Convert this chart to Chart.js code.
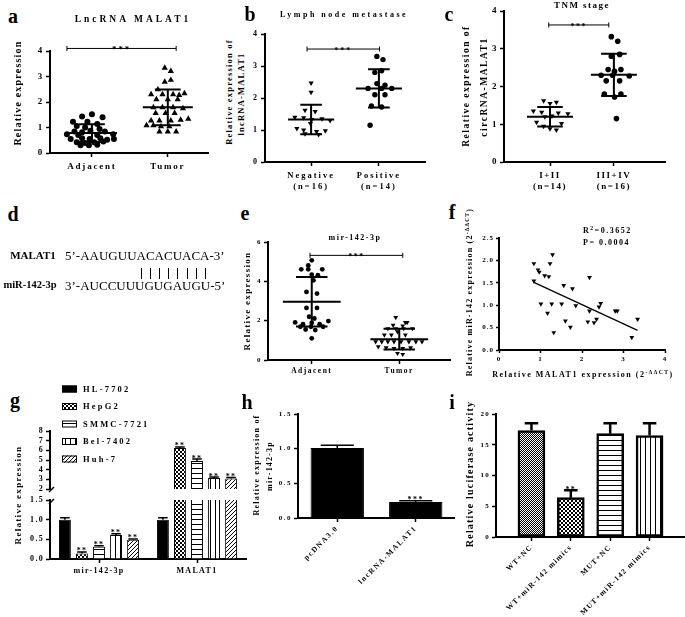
<!DOCTYPE html>
<html>
<head>
<meta charset="utf-8">
<script src="https://cdn.jsdelivr.net/npm/chart.js@4.4.0/dist/chart.umd.min.js"></script>
<style>
body { margin: 0; background: #fff; }
#fig { position: relative; width: 685px; height: 617px; overflow: hidden; font-family: "Liberation Serif", "Times New Roman", serif; color: #000; }
#fig canvas { position: absolute; }
.t { position: absolute; white-space: nowrap; font-weight: bold; line-height: 1; }
.t sup { font-size: 70%; vertical-align: 0.45em; line-height: 0; }
</style>
</head>
<body>
<div id="fig"></div>
<script>
const SERIF = '"Liberation Serif", "Times New Roman", serif';

// a: LncRNA MALAT1
const A_CATS = ['Adjacent', 'Tumor'];
const A_ADJ_X = [0.87, 1.00, 1.14, 0.75, 0.94, 1.07, 0.80, 0.91, 1.10, 0.77, 0.98, 0.87, 1.17, 0.67, 0.82, 1.07, 1.28, 0.72, 0.87, 0.97, 1.11, 1.20, 1.29, 0.80, 0.91, 1.03, 1.15, 0.85, 0.96, 1.07];
const A_ADJ_Y = [1.43, 1.52, 1.40, 1.23, 1.23, 1.14, 1.06, 1.00, 0.94, 0.84, 0.87, 0.81, 0.84, 0.74, 0.71, 0.71, 0.74, 0.55, 0.58, 0.55, 0.58, 0.52, 0.55, 0.42, 0.39, 0.42, 0.45, 0.30, 0.30, 0.32];
const A_TUM_X = [1.96, 2.04, 1.96, 2.04, 1.78, 1.87, 1.93, 2.07, 2.15, 2.22, 1.85, 2.00, 2.13, 1.81, 1.93, 2.07, 2.20, 1.84, 1.97, 2.09, 1.78, 1.89, 2.04, 2.17, 2.27, 1.72, 1.81, 1.91, 2.02, 1.89, 2.00, 2.11];
const A_TUM_Y = [3.34, 3.21, 2.79, 2.86, 2.30, 2.49, 2.30, 2.30, 2.27, 2.34, 2.10, 2.10, 2.10, 1.79, 1.79, 1.79, 1.75, 1.56, 1.56, 1.56, 1.27, 1.27, 1.27, 1.30, 1.34, 1.08, 1.08, 1.04, 1.04, 0.84, 0.84, 0.84];
const A_MEAN = [0.78, 1.79];
const A_SD = [0.35, 0.70];

// b: lymph node metastase
const B_CATS = [['Negative', '(n=16)'], ['Positive', '(n=14)']];
const B_NEG_X = [1.00, 1.00, 0.91, 1.06, 0.76, 0.89, 1.01, 1.16, 1.28, 0.99, 0.79, 0.89, 1.21, 1.08, 0.91, 1.11];
const B_NEG_Y = [2.47, 2.18, 1.62, 1.58, 1.40, 1.38, 1.33, 1.35, 1.30, 1.20, 1.05, 1.00, 0.98, 0.95, 0.88, 0.86];
const B_POS_X = [1.97, 2.06, 1.94, 2.04, 1.97, 2.09, 1.84, 2.04, 2.19, 1.94, 2.09, 1.89, 2.04, 1.87];
const B_POS_Y = [3.30, 3.20, 2.80, 2.85, 2.45, 2.40, 2.30, 2.30, 2.30, 2.10, 2.10, 1.75, 1.72, 1.15];
const B_MEAN = [1.33, 2.30];
const B_SD = [0.46, 0.60];

// c: TNM stage
const C_CATS = [['I+II', '(n=14)'], ['III+IV', '(n=16)']];
const C_LOW_X = [0.90, 1.10, 1.00, 0.74, 0.87, 1.13, 1.28, 1.03, 0.92, 0.79, 1.18, 0.90, 1.00, 1.10];
const C_LOW_Y = [1.62, 1.58, 1.55, 1.35, 1.32, 1.30, 1.28, 1.22, 1.20, 1.05, 1.02, 0.95, 0.88, 0.85];
const C_HIGH_X = [1.96, 2.06, 1.96, 2.09, 1.91, 2.11, 2.01, 1.80, 1.98, 2.24, 1.88, 2.09, 1.85, 2.11, 2.01, 2.04];
const C_HIGH_Y = [3.32, 3.20, 2.80, 2.85, 2.45, 2.45, 2.40, 2.30, 2.30, 2.28, 2.15, 2.15, 1.80, 1.80, 1.72, 1.15];
const C_MEAN = [1.20, 2.31];
const C_SD = [0.26, 0.56];

// e: mir-142-3p
const E_CATS = ['Adjacent', 'Tumor'];
const E_ADJ_X = [1.00, 0.96, 0.88, 0.96, 1.12, 1.00, 1.07, 1.02, 0.94, 1.06, 0.94, 1.06, 0.97, 1.03, 0.81, 1.19, 0.90, 1.00, 1.09, 0.87, 0.99, 1.13, 0.93, 1.04, 1.00];
const E_ADJ_Y = [5.07, 4.81, 4.61, 4.61, 4.61, 4.34, 4.31, 4.05, 3.46, 3.38, 2.65, 2.65, 2.20, 2.11, 1.91, 1.98, 1.82, 1.89, 1.82, 1.69, 1.69, 1.69, 1.55, 1.52, 1.10];
const E_TUM_X = [1.96, 2.07, 1.93, 2.04, 2.09, 1.87, 1.96, 2.05, 2.15, 1.98, 1.83, 1.91, 2.07, 1.73, 1.80, 1.87, 1.94, 2.02, 2.11, 2.19, 2.26, 1.76, 1.85, 1.94, 2.04, 2.13, 1.98, 2.04];
const E_TUM_Y = [2.16, 1.91, 1.77, 1.74, 1.91, 1.60, 1.60, 1.60, 1.60, 1.44, 1.27, 1.27, 1.27, 0.93, 0.93, 0.93, 0.93, 0.93, 0.93, 0.93, 0.93, 0.68, 0.63, 0.59, 0.59, 0.63, 0.34, 0.29];
const E_MEAN = [2.96, 1.06];
const E_SD = [1.26, 0.53];

// f: correlation
const F_X = [0.84, 0.94, 0.97, 0.84, 1.01, 1.10, 1.20, 1.23, 1.29, 1.17, 1.27, 1.32, 1.56, 1.51, 1.60, 1.72, 1.77, 1.85, 2.18, 2.14, 2.18, 2.29, 2.35, 2.41, 2.45, 2.80, 2.85, 3.20, 3.34];
const F_Y = [1.93, 1.79, 1.74, 1.54, 1.03, 1.66, 1.64, 1.93, 2.13, 0.82, 1.03, 0.39, 1.44, 1.03, 0.65, 0.51, 1.37, 0.99, 1.62, 0.63, 0.87, 0.61, 0.69, 0.96, 1.04, 0.87, 0.87, 0.28, 0.69];
const F_FIT_X = [0.84, 3.34];
const F_FIT_Y = [1.51, 0.44];

// g: cell lines
const G_CATS = ['mir-142-3p', 'MALAT1'];
const G_SERIES = ['HL-7702', 'HepG2', 'SMMC-7721', 'Bel-7402', 'Huh-7'];
const G_HL = [1.00, 1.00];
const G_HEPG2 = [0.14, 6.25];
const G_SMMC = [0.31, 4.90];
const G_BEL = [0.61, 3.15];
const G_HUH = [0.49, 3.08];
const G_ERR = [[0.05, 0.05], [0.04, 0.10], [0.03, 0.20], [0.03, 0.08], [0.02, 0.10]];
const G_STARS = [['', ''], ['**', '**'], ['**', '**'], ['**', '**'], ['**', '**']];

// h
const H_CATS = ['pcDNA3.0', 'lncRNA-MALAT1'];
const H_VALUES = [1.01, 0.23];
const H_ERR = [0.04, 0.02];
const H_STARS = ['', '***'];

// i
const I_CATS = ['WT+NC', 'WT+miR-142 mimics', 'MUT+NC', 'MUT+miR-142 mimics'];
const I_VALUES = [17.3, 6.4, 16.8, 16.5];
const I_ERR = [1.2, 1.2, 1.7, 2.0];
const I_STARS = ['', '**', '', ''];

Chart.defaults.font.family = SERIF;
Chart.defaults.font.weight = 'bold';
Chart.defaults.color = '#000';

const fig = document.getElementById('fig');

function text(html, x, y, size, opts = {}) {
  const d = document.createElement('div');
  d.className = 't';
  d.innerHTML = html;
  d.style.left = x + 'px';
  d.style.top = y + 'px';
  d.style.fontSize = size + 'px';
  d.style.letterSpacing = (opts.ls || 0) + 'px';
  if (opts.normal) d.style.fontWeight = 'normal';
  if (opts.left) d.style.transform = 'translateY(-50%)';
  else d.style.transform = 'translate(-50%,-50%)' + (opts.rot ? ' rotate(-90deg)' : '');
  fig.appendChild(d);
  return d;
}

// canvas at box [L,T,W,H], chart area forced to [x0,y0,x1,y1] (page px)
function place(box, area, config) {
  const [L, T, W, H] = box;
  const [x0, y0, x1, y1] = area;
  const cv = document.createElement('canvas');
  cv.width = W; cv.height = H;
  cv.style.left = L + 'px'; cv.style.top = T + 'px';
  fig.appendChild(cv);
  const o = config.options;
  const below = T + H - y1;
  const xHidden = o.scales.x.display === false;
  o.responsive = false;
  o.animation = false;
  o.layout = { padding: { left: 0, top: y0 - T, right: L + W - x1, bottom: xHidden ? below : 0 } };
  o.scales.x.afterFit = s => { s.height = xHidden ? 0 : below; s.paddingLeft = 0; s.paddingRight = 0; };
  o.scales.y.afterFit = s => { s.width = x0 - L; s.paddingTop = 0; s.paddingBottom = 0; };
  o.plugins = Object.assign({ legend: { display: false }, tooltip: { enabled: false } }, o.plugins || {});
  return new Chart(cv, config);
}

const grid = (len = 4) => ({ display: true, drawOnChartArea: false, drawTicks: true, tickLength: len, tickWidth: 1.5, tickColor: '#000', offset: false });
const border = (w = 2) => ({ display: true, color: '#000', width: w });
const spacing = px => ({ id: 'spacing', beforeDraw(chart) { chart.ctx.letterSpacing = px + 'px'; } });

function notes(items) {
  return {
    id: 'notes',
    afterDatasetsDraw(chart) {
      const ctx = chart.ctx;
      ctx.save();
      ctx.fillStyle = '#000';
      ctx.textAlign = 'center';
      ctx.textBaseline = 'alphabetic';
      items.forEach(n => {
        ctx.font = `bold ${n.size}px ${SERIF}`;
        ctx.fillText(n.text, chart.scales.x.getPixelForValue(n.x), chart.scales.y.getPixelForValue(n.y) + n.dy);
      });
      ctx.restore();
    }
  };
}

function meanSd(c, m, s, hm, hc) {
  return [
    { x: c - hm, y: m }, { x: c + hm, y: m }, { x: c, y: null },
    { x: c, y: m - s }, { x: c, y: m + s }, { x: c, y: null },
    { x: c - hc, y: m + s }, { x: c + hc, y: m + s }, { x: c, y: null },
    { x: c - hc, y: m - s }, { x: c + hc, y: m - s }
  ];
}

function dotPanel(p) {
  const datasets = [];
  p.groups.forEach((g, i) => {
    datasets.push({
      data: g.x.map((x, j) => ({ x, y: g.y[j] })),
      pointStyle: g.style, rotation: g.rot || 0, pointRadius: g.r,
      backgroundColor: '#000', borderColor: '#000', borderWidth: 0
    });
    datasets.push({
      data: meanSd(i + 1, p.mean[i], p.sd[i], p.hm, p.hc),
      showLine: true, borderColor: '#000', borderWidth: p.lw, pointRadius: 0
    });
  });
  datasets.push({
    data: [{ x: p.br[0], y: p.br[2] }, { x: p.br[1], y: p.br[2] }],
    showLine: true, borderColor: '#000', borderWidth: 1, clip: false,
    pointStyle: 'line', rotation: 90, pointRadius: 2.5, pointBorderWidth: 1, pointBorderColor: '#000'
  });
  return place(p.box, p.area, {
    type: 'scatter',
    data: { datasets },
    options: {
      scales: {
        x: {
          type: 'linear', min: p.xmin, max: p.xmax,
          afterBuildTicks: s => { s.ticks = [{ value: 1 }, { value: 2 }]; },
          ticks: { callback: v => p.cats[v - 1], font: { size: p.xf }, padding: p.xpad || 2, maxRotation: 0, autoSkip: false },
          grid: grid(4), border: border(2)
        },
        y: {
          min: 0, max: p.ymax,
          ticks: { stepSize: p.ystep, font: { size: p.yf }, padding: 2, autoSkip: false },
          grid: grid(4), border: border(2)
        }
      }
    },
    plugins: [spacing(p.ls), notes([{ x: (p.br[0] + p.br[1]) / 2, y: p.br[2], text: '***', size: p.sf, dy: 4 }])]
  });
}

function makePattern(kind, n) {
  const c = document.createElement('canvas');
  c.width = c.height = n;
  const x = c.getContext('2d');
  x.fillStyle = '#fff'; x.fillRect(0, 0, n, n);
  x.fillStyle = '#000'; x.strokeStyle = '#000';
  if (kind === 'check') { const h = n / 2; x.fillRect(0, 0, h, h); x.fillRect(h, h, h, h); }
  if (kind === 'h') x.fillRect(0, 0, n, 1);
  if (kind === 'v') x.fillRect(0, 0, 1, n);
  if (kind === 'd') {
    x.lineWidth = 1;
    x.beginPath();
    x.moveTo(0, n); x.lineTo(n, 0);
    x.moveTo(-1, 1); x.lineTo(1, -1);
    x.moveTo(n - 1, n + 1); x.lineTo(n + 1, n - 1);
    x.stroke();
  }
  return document.createElement('canvas').getContext('2d').createPattern(c, 'repeat');
}

function barExtras(errs, stars, frac, lw, starSize) {
  return {
    id: 'barExtras',
    afterDatasetsDraw(chart) {
      const ctx = chart.ctx, ys = chart.scales.y, a = chart.chartArea;
      ctx.save();
      ctx.beginPath();
      ctx.rect(a.left, a.top - 20, a.right - a.left, a.bottom - a.top + 20);
      ctx.clip();
      chart.data.datasets.forEach((ds, d) => {
        chart.getDatasetMeta(d).data.forEach((bar, i) => {
          const raw = ds.data[i];
          const v = typeof raw === 'object' ? raw.y : raw;
          const top = ys.getPixelForValue(v + errs[d][i]);
          const base = ys.getPixelForValue(v);
          const half = bar.width * frac / 2;
          ctx.strokeStyle = '#000';
          ctx.lineWidth = lw;
          ctx.beginPath();
          ctx.moveTo(bar.x, base); ctx.lineTo(bar.x, top);
          ctx.moveTo(bar.x - half, top); ctx.lineTo(bar.x + half, top);
          ctx.stroke();
          if (stars[d][i]) {
            ctx.fillStyle = '#000';
            ctx.font = `bold ${starSize}px ${SERIF}`;
            ctx.textAlign = 'center';
            ctx.textBaseline = 'alphabetic';
            ctx.fillText(stars[d][i], bar.x, top + 1.5);
          }
        });
      });
      ctx.restore();
    }
  };
}

// ---- panels a, b, c, e ----
dotPanel({
  box: [20, 30, 195, 160], area: [50, 51, 208, 153],
  cats: A_CATS, xmin: 0.447, xmax: 2.53, ymax: 4, ystep: 1, xf: 9, yf: 9, ls: 1.8, sf: 9, xpad: 4,
  groups: [
    { x: A_ADJ_X, y: A_ADJ_Y, style: 'circle', r: 3 },
    { x: A_TUM_X, y: A_TUM_Y, style: 'triangle', r: 3.6 }
  ],
  mean: A_MEAN, sd: A_SD, hm: 0.33, hc: 0.17, lw: 2, br: [0.67, 2.11, 4.1]
});
dotPanel({
  box: [250, 20, 185, 200], area: [265, 34, 425, 162],
  cats: B_CATS, xmin: 0.32, xmax: 2.68, ymax: 4, ystep: 1, xf: 8.5, yf: 8, ls: 2, sf: 8, xpad: 5,
  groups: [
    { x: B_NEG_X, y: B_NEG_Y, style: 'triangle', rot: 180, r: 3 },
    { x: B_POS_X, y: B_POS_Y, style: 'circle', r: 2.7 }
  ],
  mean: B_MEAN, sd: B_SD, hm: 0.34, hc: 0.16, lw: 2, br: [0.94, 2.01, 3.53]
});
dotPanel({
  box: [490, 0, 195, 200], area: [504, 11, 665, 162],
  cats: C_CATS, xmin: 0.28, xmax: 2.8, ymax: 4, ystep: 1, xf: 9, yf: 9, ls: 1.5, sf: 8, xpad: 4,
  groups: [
    { x: C_LOW_X, y: C_LOW_Y, style: 'triangle', rot: 180, r: 3 },
    { x: C_HIGH_X, y: C_HIGH_Y, style: 'circle', r: 2.8 }
  ],
  mean: C_MEAN, sd: C_SD, hm: 0.36, hc: 0.2, lw: 2, br: [0.98, 1.92, 3.63]
});
dotPanel({
  box: [250, 225, 205, 160], area: [268, 242, 455, 360],
  cats: E_CATS, xmin: 0.5, xmax: 2.58, ymax: 6, ystep: 2, xf: 7.5, yf: 7, ls: 1.5, sf: 8, xpad: 3,
  groups: [
    { x: E_ADJ_X, y: E_ADJ_Y, style: 'circle', r: 2.4 },
    { x: E_TUM_X, y: E_TUM_Y, style: 'triangle', rot: 180, r: 2.8 }
  ],
  mean: E_MEAN, sd: E_SD, hm: 0.33, hc: 0.18, lw: 2, br: [0.98, 2.04, 5.32]
});

// ---- panel f ----
place([475, 225, 200, 145], [499, 238, 665, 350], {
  type: 'scatter',
  data: {
    datasets: [
      { data: F_X.map((x, i) => ({ x, y: F_Y[i] })), pointStyle: 'triangle', rotation: 180, pointRadius: 2.8, backgroundColor: '#000', borderWidth: 0 },
      { data: F_FIT_X.map((x, i) => ({ x, y: F_FIT_Y[i] })), showLine: true, borderColor: '#000', borderWidth: 1.3, pointRadius: 0 }
    ]
  },
  options: {
    scales: {
      x: { type: 'linear', min: 0, max: 4, ticks: { stepSize: 1, font: { size: 7 }, padding: 2, maxRotation: 0, autoSkip: false }, grid: grid(3), border: border(2) },
      y: { min: 0, max: 2.5, ticks: { stepSize: 0.5, font: { size: 7 }, padding: 2, autoSkip: false, callback: v => v.toFixed(1) }, grid: grid(3), border: border(2) }
    }
  },
  plugins: [spacing(1)]
});

// ---- panel g (broken y axis: two charts) ----
const G_FILLS = [
  '#000',
  makePattern('check', 4),
  makePattern('h', 5),
  makePattern('v', 5),
  makePattern('d', 4)
];
const G_VALUES = [G_HL, G_HEPG2, G_SMMC, G_BEL, G_HUH];

const breakMark = upper => ({
  id: 'brk',
  afterDraw(chart) {
    const a = chart.chartArea, ctx = chart.ctx;
    const y = upper ? a.bottom + 1 : a.top + 2;
    ctx.save();
    ctx.strokeStyle = '#000';
    ctx.lineWidth = 1.5;
    ctx.beginPath();
    ctx.moveTo(a.left - 1, y + 2);
    ctx.lineTo(a.left + 4, y - 3);
    ctx.stroke();
    ctx.restore();
  }
});

const gLegend = {
  id: 'gLegend',
  afterDraw(chart) {
    const ctx = chart.ctx;
    ctx.save();
    ctx.letterSpacing = '2.2px';
    ctx.font = `bold 8.5px ${SERIF}`;
    ctx.textBaseline = 'middle';
    chart.data.datasets.forEach((ds, i) => {
      const y = 6 + i * 17.5;
      ctx.fillStyle = ds.backgroundColor;
      ctx.fillRect(42, y - 3.5, 15, 7);
      ctx.strokeStyle = '#000';
      ctx.lineWidth = 1;
      ctx.strokeRect(42.5, y - 3, 14, 6);
      ctx.fillStyle = '#000';
      ctx.fillText(ds.label, 63, y + 0.5);
    });
    ctx.restore();
  }
};

function gChart(box, area, min, max, step, upper) {
  return place(box, area, {
    type: 'bar',
    data: {
      labels: G_CATS,
      datasets: G_SERIES.map((name, d) => ({
        label: name, data: G_VALUES[d], backgroundColor: G_FILLS[d],
        borderColor: '#000', borderWidth: 1, borderSkipped: 'start',
        categoryPercentage: 0.87, barPercentage: 0.7
      }))
    },
    options: {
      scales: {
        x: upper ? { display: false } : { ticks: { font: { size: 8 }, padding: 3 }, grid: grid(4), border: border(2) },
        y: { min, max, ticks: { stepSize: step, font: { size: 8 }, padding: 2, autoSkip: false, callback: v => upper ? v : v.toFixed(1) }, grid: grid(4), border: border(2) }
      }
    },
    plugins: [spacing(1.3), barExtras(G_ERR, G_STARS, 0.8, 1.5, 8), breakMark(upper)].concat(upper ? [gLegend] : [])
  });
}
gChart([20, 383, 230, 112], [50, 431, 246, 489], 2, 8, 1, true);
gChart([20, 494, 230, 90], [50, 500, 246, 559], 0, 1.5, 0.5, false);

// ---- panel h ----
place([275, 400, 180, 210], [298, 414, 455, 518], {
  type: 'bar',
  data: { labels: H_CATS, datasets: [{ data: H_VALUES, backgroundColor: '#000', borderColor: '#000', borderWidth: 1, categoryPercentage: 1, barPercentage: 0.68 }] },
  options: {
    scales: {
      x: { ticks: { font: { size: 7.5 }, minRotation: 45, maxRotation: 45, padding: 2 }, grid: grid(4), border: border(2) },
      y: { min: 0, max: 1.5, ticks: { stepSize: 0.5, font: { size: 7 }, padding: 2, autoSkip: false, callback: v => v.toFixed(1) }, grid: grid(4), border: border(2) }
    }
  },
  plugins: [spacing(1.5), barExtras([H_ERR], [H_STARS], 0.62, 1.5, 8)]
});

// ---- panel i ----
const I_POS = [1, 2, 3, 4];
const I_FILLS = [makePattern('check', 2), makePattern('check', 4), makePattern('h', 5), makePattern('v', 5)];
place([475, 400, 210, 217], [496, 414, 685, 537], {
  type: 'bar',
  data: {
    datasets: [{
      data: I_POS.map((x, k) => ({ x, y: I_VALUES[k] })),
      backgroundColor: I_FILLS, borderColor: '#000', borderWidth: 2.5, borderSkipped: false, barThickness: 27
    }]
  },
  options: {
    scales: {
      x: {
        type: 'linear', min: 0.1, max: 4.9, offset: false,
        afterBuildTicks: s => { s.ticks = I_POS.map(v => ({ value: v })); },
        ticks: { callback: v => I_CATS[v - 1], font: { size: 7.5 }, minRotation: 45, maxRotation: 45, autoSkip: false, padding: 2 },
        grid: grid(4), border: border(2)
      },
      y: { min: 0, max: 20, ticks: { stepSize: 5, font: { size: 7 }, padding: 2, autoSkip: false }, grid: grid(4), border: border(2) }
    }
  },
  plugins: [spacing(1.2), barExtras([I_ERR], [I_STARS], 0.5, 2.5, 8)]
});

// ---- text: panel letters, titles, axis titles ----
[['a', 13, 16], ['b', 250, 14], ['c', 449, 14], ['d', 13, 214], ['e', 245, 213], ['f', 452, 212], ['g', 15, 400], ['h', 247, 402], ['i', 452, 402]]
  .forEach(([s, x, y]) => text(s, x, y, 20));

text('LncRNA MALAT1', 133, 20, 9.5, { ls: 3 });
text('Relative expression', 18, 93, 10, { ls: 1.2, rot: true });

text('Lymph node metastase', 344, 15, 8, { ls: 2.5 });
text('Relative expression of', 229, 92, 8.5, { ls: 1.2, rot: true });
text('lncRNA-MALAT1', 241, 94, 8.5, { ls: 1.2, rot: true });

text('TNM stage', 582, 5, 9, { ls: 1.5 });
text('Relative expression of', 467, 86, 9.5, { ls: 1.5, rot: true });
text('circRNA-MALAT1', 485, 87, 9.5, { ls: 1.5, rot: true });

text('mir-142-3p', 355, 238, 8, { ls: 1.5 });
text('Relative expression', 247, 301, 9, { ls: 1.3, rot: true });

text('R<sup>2</sup>=0.3652', 583, 231, 8, { ls: 1.5, left: true });
text('P= 0.0004', 583, 243, 8, { ls: 1.5, left: true });
text('Relative MALAT1 expression (2<sup>-ΔΔCT</sup>)', 583, 375, 8, { ls: 1.5 });
text('Relative miR-142 expression (2<sup>-ΔΔCT</sup>)', 470, 292, 8, { ls: 1.2, rot: true });

text('Relative expression', 18, 495, 9, { ls: 1.3, rot: true });

text('Relative expression of', 257, 465, 8, { ls: 1.2, rot: true });
text('mir-142-3p', 270, 466, 8, { ls: 1.2, rot: true });

text('Relative luciferase activity', 470, 474, 10, { ls: 1.2, rot: true });

// ---- panel d: sequence pairing ----
text('MALAT1', 33, 255, 11);
text('miR-142-3p', 30, 285, 10.5);
function seqLine(prefix, bases, suffix, x, y) {
  const d = text('', x, y, 13, { normal: true, left: true });
  d.appendChild(document.createTextNode(prefix));
  const spans = bases.split('').map(b => {
    const s = document.createElement('span');
    s.textContent = b;
    d.appendChild(s);
    return s;
  });
  d.appendChild(document.createTextNode(suffix));
  return spans;
}
const topBases = seqLine('5’-', 'AAUGUUACACUACA', '-3’', 65, 255);
seqLine('3’-', 'AUCCUUUGUGAUGU', '-5’', 65, 285);
const figBox = fig.getBoundingClientRect();
topBases.slice(-8).forEach(s => {
  const r = s.getBoundingClientRect();
  const bar = document.createElement('div');
  bar.style.cssText = `position:absolute;width:1px;background:#000;top:268px;height:11px;left:${Math.round(r.left + r.width / 2 - figBox.left)}px`;
  fig.appendChild(bar);
});
</script>
</body>
</html>
